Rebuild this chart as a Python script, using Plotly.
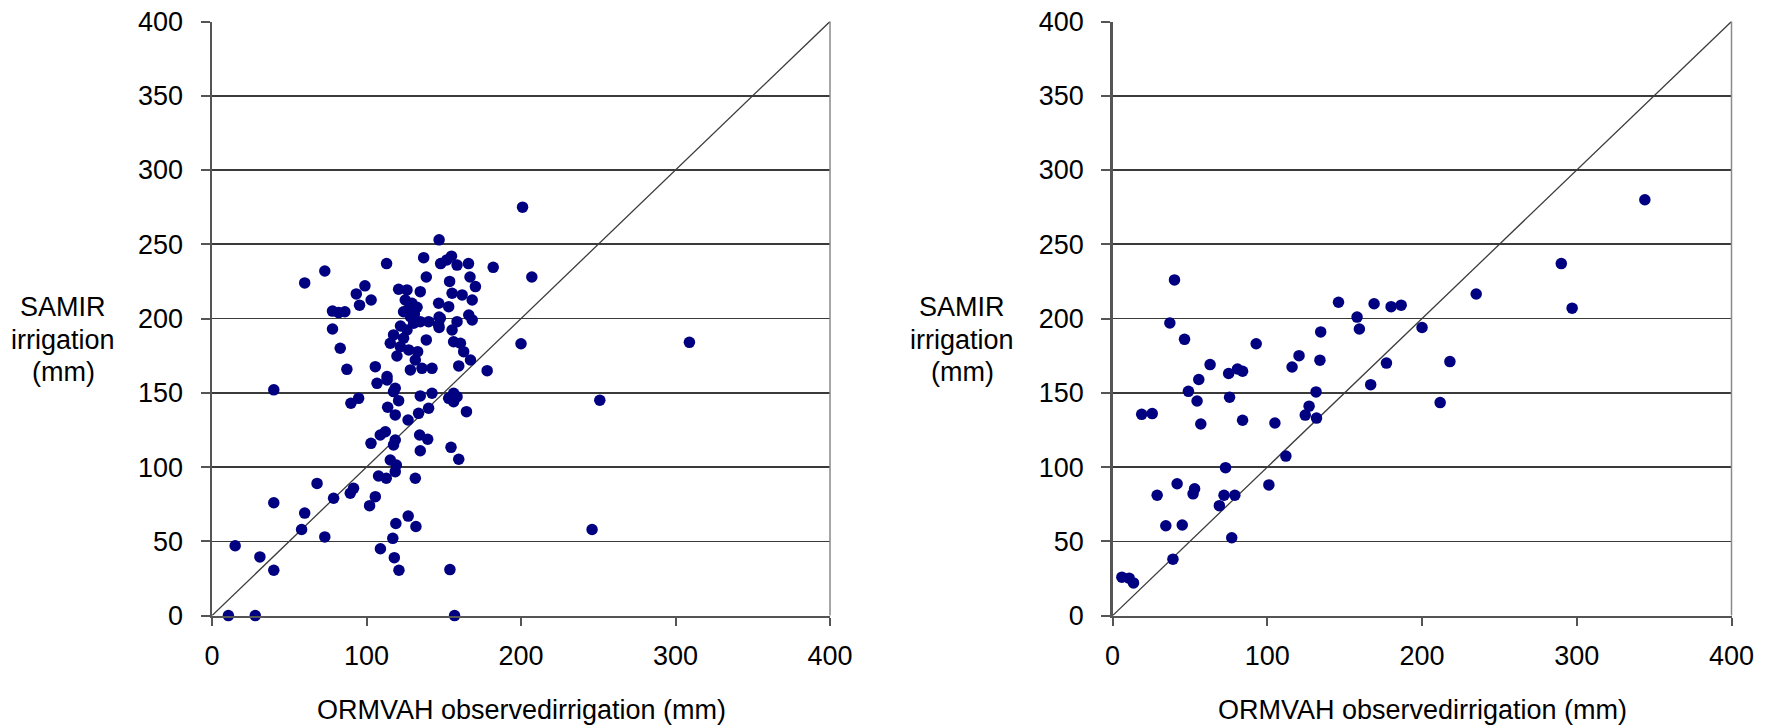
import plotly.graph_objects as go

# ---- Left panel data (ORMVAH observed, SAMIR simulated), mm ----
left_x = [201, 147, 113, 137, 73, 60, 155, 148, 152, 158.6, 166, 182, 207,
          138.7, 153.8, 167, 170.5, 99, 93.4, 103, 95.5, 86, 78, 82,
          120.8, 126.2, 134.8, 125.1, 129.4, 132.7, 124, 128.4, 130.5, 134.8, 140.2,
          126.2, 117.5, 124, 115.4, 121.9, 127.3, 133.1, 119.7, 131.6, 128.4, 135.9,
          142.4, 113.3, 105.7, 87.3, 138.7, 146.7, 147.8, 146.7, 153.2, 155.4, 161.9,
          168.4, 166.2, 168.4, 158.6, 155.4, 156.4, 160.8, 162.9, 167.3, 159.7, 178.1,
          200, 83, 78,
          106.8, 113.3, 118.6, 117.5, 120.8, 94.9, 89.9, 113.7, 118.6, 126.9, 134.8,
          142.4, 140.2, 133.7, 153.2, 156.4, 158.6, 156.4, 164.7, 112.2, 108.9, 102.9,
          118.6, 117.5, 134.4, 139.6, 134.8, 154.7, 159.7, 115.4, 119.3, 118.6, 107.8,
          112.8, 131.6, 91.6, 89.5, 105.7, 102, 78.7, 68, 40, 40, 60, 58, 73, 127, 119,
          132, 117, 109, 15, 31, 40, 118, 121, 154, 10.6, 28, 157, 309, 251, 246,
          147, 147, 127, 131, 122]
left_y = [275, 253, 237, 241, 232, 224, 242, 237, 239.5, 236, 237, 234.5, 228,
          228, 225, 228, 221.5, 222, 216.6, 212.5, 209, 204.6, 205, 204,
          219.7, 219.3, 218.1, 212.5, 210.3, 207.6, 204.6, 201.3, 196.8, 197.9, 197.9,
          192.3, 189, 186.7, 183.4, 181, 178.9, 177.7, 174.8, 172.1, 165.4, 166.5,
          166.5, 160.9, 167.6, 165.8, 185.6, 210.3, 200.2, 195.7, 208, 217, 215.9,
          212.5, 202.4, 199.1, 197.9, 192.3, 184.4, 183.4, 177.7, 172.1, 168.1, 164.9,
          183, 180, 193,
          156.4, 158.7, 153.1, 150.8, 144.7, 146.3, 143, 140.3, 135.1, 131.7, 147.9,
          149.7, 139.6, 136.2, 146.3, 149.7, 147.4, 144, 137.3, 123.8, 121.6, 116,
          118.2, 114.9, 121.6, 118.7, 111, 113.3, 105.3, 104.8, 101.4, 96.9, 94,
          92.5, 92.5, 85.7, 82.4, 80.1, 74, 79, 89, 152, 76, 69, 58, 53, 67, 62,
          60, 52, 45, 47, 39.5, 30.5, 39, 30.5, 31, 0, 0, 0, 184, 145, 58,
          201, 194, 206, 203, 195]

# ---- Right panel data ----
right_x = [344, 290, 235, 297, 40, 146, 169, 180, 186.5, 158, 37, 46.5, 92.8,
           134.5, 159.5, 200, 120.5, 116, 134, 177, 218, 166.8, 211.7, 63, 55.7,
           75, 80.7, 84, 49, 54.6, 75.6, 18.8, 25.6, 57, 84, 104.9, 131.5, 127,
           124.5, 131.8, 112, 73, 101, 41.7, 28.8, 53, 52, 72, 79, 69, 34.4, 45,
           77, 39, 6, 10.7, 13.5]
right_y = [280, 237, 216.5, 207, 226, 211, 210, 208, 209, 201, 197, 186, 183,
           191, 193, 194, 175, 167.4, 172, 170, 171, 155.5, 143.4, 169, 159,
           163, 166, 164.5, 151, 144.5, 147, 135.5, 136, 129, 131.5, 129.7, 150.6, 141,
           135, 133, 107.4, 99.6, 88, 88.8, 81, 85.4, 82, 81, 81, 74, 60.5, 61,
           52.4, 38, 25.9, 25.2, 22]

one_to_one = [0, 400]
x_ticks = [0, 100, 200, 300, 400]
y_ticks = [0, 50, 100, 150, 200, 250, 300, 350, 400]

x_title = "ORMVAH observedirrigation (mm)"
y_title_lines = ["SAMIR", "irrigation", "(mm)"]

FONT = "Liberation Sans, Arial, sans-serif"
FS = 27
W, H = 1771, 728
left_dom = [212 / W, 830 / W]
right_dom = [1112.6 / W, 1731.5 / W]
y_dom = [1 - 615.6 / H, 1 - 21.5 / H]

fig = go.Figure()
marker = dict(color="#000080", size=11.5, line=dict(width=0))
for xs, ys, xa, ya in [(left_x, left_y, "x", "y"), (right_x, right_y, "x2", "y2")]:
    fig.add_trace(go.Scatter(x=one_to_one, y=one_to_one, mode="lines",
                             line=dict(color="#3c3c3c", width=1.3),
                             xaxis=xa, yaxis=ya, showlegend=False, hoverinfo="skip"))
    fig.add_trace(go.Scatter(x=xs, y=ys, mode="markers", marker=marker,
                             xaxis=xa, yaxis=ya, showlegend=False, cliponaxis=False))

xaxis_common = dict(range=[0, 400], tickvals=x_ticks, showgrid=False, zeroline=False,
                    showline=True, linecolor="#555555", linewidth=2.5,
                    ticks="outside", ticklen=8, tickwidth=2, tickcolor="#555555",
                    tickfont=dict(family=FONT, size=FS, color="black"),
                    ticklabelstandoff=6, fixedrange=True, automargin=False)
yaxis_common = dict(range=[0, 400], tickvals=y_ticks, showgrid=True,
                    gridcolor="#3a3a3a", gridwidth=1.6, zeroline=False,
                    showline=True, linecolor="#555555", linewidth=2.5,
                    ticks="outside", ticklen=9, tickwidth=2, tickcolor="#555555",
                    tickfont=dict(family=FONT, size=FS, color="black"),
                    ticklabelstandoff=12, domain=y_dom, fixedrange=True, automargin=False)

fig.update_layout(
    width=W, height=H, margin=dict(l=0, r=0, t=0, b=0, pad=0),
    paper_bgcolor="white", plot_bgcolor="white",
    xaxis=dict(xaxis_common, domain=left_dom, anchor="y"),
    yaxis=dict(yaxis_common, anchor="x"),
    xaxis2=dict(xaxis_common, domain=right_dom, anchor="y2"),
    yaxis2=dict(yaxis_common, anchor="x2"),
)

shapes = []
annotations = []
title_line_y = [306.7, 339.5, 372]
for xref, yref, dom, ycx in [("x domain", "y domain", left_dom, 63), ("x2 domain", "y2 domain", right_dom, 962)]:
    shapes.append(dict(type="line", xref=xref, yref=yref, x0=1, x1=1, y0=0, y1=1,
                       line=dict(color="#8a8a8a", width=1.5)))
    annotations.append(dict(text=x_title, xref="paper", yref="paper",
                            x=(dom[0] + dom[1]) / 2, y=1 - 710 / H, xanchor="center", yanchor="middle",
                            showarrow=False, font=dict(family=FONT, size=FS, color="black")))
    for line, ly in zip(y_title_lines, title_line_y):
        annotations.append(dict(text=line, xref="paper", yref="paper",
                                x=ycx / W, y=1 - ly / H, xanchor="center", yanchor="middle",
                                showarrow=False,
                                font=dict(family=FONT, size=FS, color="black")))
fig.update_layout(shapes=shapes, annotations=annotations)

fig.write_html("out.html",
               config={"displayModeBar": False, "staticPlot": True},
               post_script="document.body.style.margin='0';document.body.style.padding='0';document.body.style.overflow='hidden';")
